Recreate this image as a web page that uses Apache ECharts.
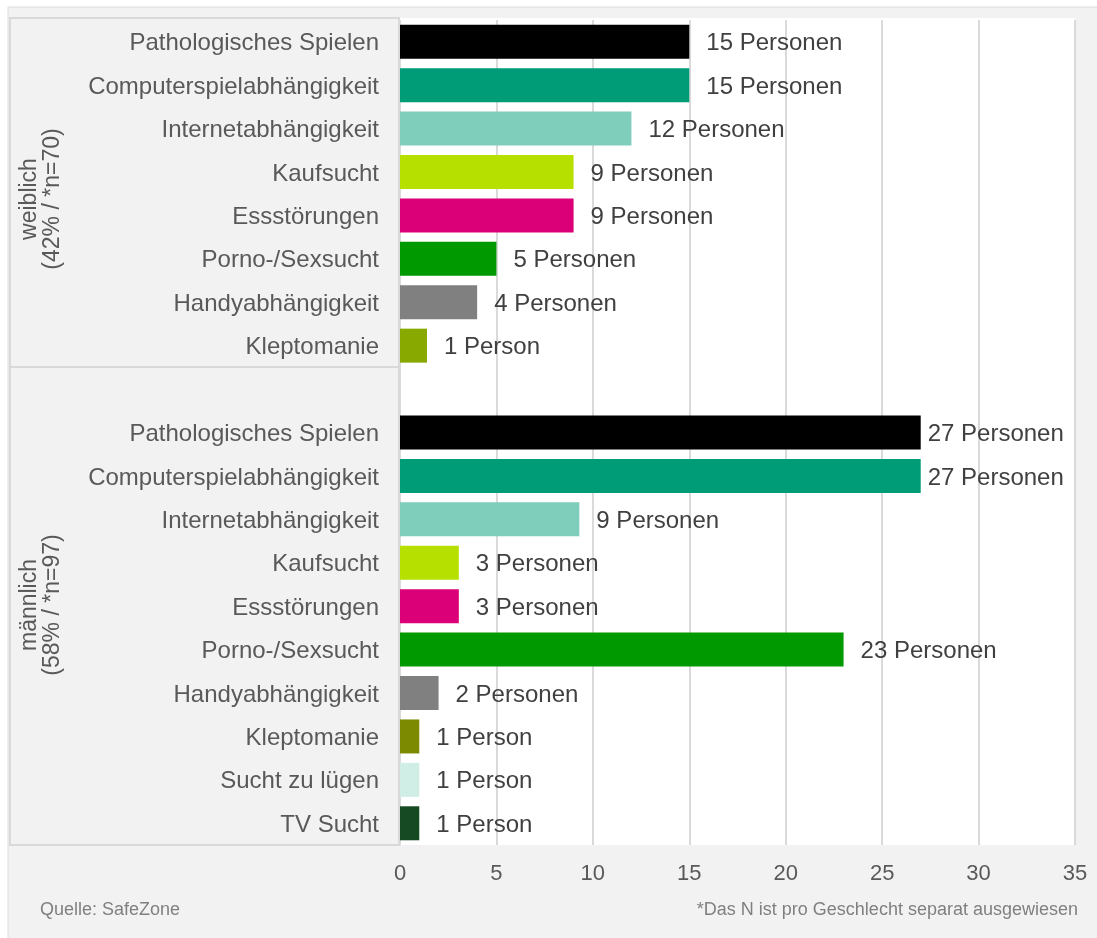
<!DOCTYPE html>
<html>
<head>
<meta charset="utf-8">
<script src="https://cdn.jsdelivr.net/npm/echarts@6/dist/echarts.min.js"></script>
<style>
  html, body { margin: 0; padding: 0; background: #fff; }
  #chart { width: 1097px; height: 938px; }
</style>
</head>
<body>
<div id="chart"></div>
<script>
// weiblich
const femaleCats = ["Pathologisches Spielen", "Computerspielabhängigkeit", "Internetabhängigkeit", "Kaufsucht", "Essstörungen", "Porno-/Sexsucht", "Handyabhängigkeit", "Kleptomanie"];
const femaleValues = [15, 15, 12, 9, 9, 5, 4, 1.4];
const femaleLabels = ["15 Personen", "15 Personen", "12 Personen", "9 Personen", "9 Personen", "5 Personen", "4 Personen", "1 Person"];
const femaleColors = ["#000000", "#009b77", "#7fcdbb", "#b5e000", "#dc0078", "#009900", "#808080", "#88aa00"];

// männlich
const maleCats = ["Pathologisches Spielen", "Computerspielabhängigkeit", "Internetabhängigkeit", "Kaufsucht", "Essstörungen", "Porno-/Sexsucht", "Handyabhängigkeit", "Kleptomanie", "Sucht zu lügen", "TV Sucht"];
const maleValues = [27, 27, 9.3, 3.05, 3.05, 23, 2, 1, 1, 1];
const maleLabels = ["27 Personen", "27 Personen", "9 Personen", "3 Personen", "3 Personen", "23 Personen", "2 Personen", "1 Person", "1 Person", "1 Person"];
const maleColors = ["#000000", "#009b77", "#7fcdbb", "#b5e000", "#dc0078", "#009900", "#808080", "#7b8a00", "#d0ede6", "#154a22"];

const xTicks = [0, 5, 10, 15, 20, 25, 30, 35];

const groupTitles = ["weiblich\n(42% / *n=70)", "männlich\n(58% / *n=97)"];
const source = "Quelle: SafeZone";
const note = "*Das N ist pro Geschlecht separat ausgewiesen";

// eine Leerzeile zwischen den Gruppen
const cats = femaleCats.concat([""], maleCats);
const labels = femaleLabels.concat([""], maleLabels);
const colors = femaleColors.concat(["#fff"], maleColors);
const values = femaleValues.concat(["-"], maleValues);

const font = "'Liberation Sans', Arial, Helvetica, sans-serif";

const barData = values.map((v, i) => ({
  value: v,
  itemStyle: { color: colors[i] },
  label: { distance: v > 25 ? 7 : 17 }
}));

const chart = echarts.init(document.getElementById("chart"));

chart.setOption({
  backgroundColor: "#fff",
  animation: false,
  textStyle: { fontFamily: font },
  grid: {
    left: 400,
    right: 22,
    top: 20,
    bottom: 93,
    show: true,
    backgroundColor: "#fff",
    borderWidth: 0
  },
  xAxis: {
    type: "value",
    min: xTicks[0],
    max: xTicks[xTicks.length - 1],
    interval: xTicks[1] - xTicks[0],
    axisLine: { show: false },
    axisTick: { show: false },
    axisLabel: { fontSize: 22, color: "#595959", margin: 18, fontFamily: font },
    splitLine: { lineStyle: { color: "#dadada", width: 2 } }
  },
  yAxis: {
    type: "category",
    inverse: true,
    data: cats,
    axisLine: { show: false },
    axisTick: { show: false },
    axisLabel: {
      fontSize: 24, color: "#595959", margin: 21, fontFamily: font,
      formatter: (v) => (v ? "{c|" + v + "}" : ""),
      rich: { c: { fontSize: 24, color: "#595959", fontFamily: font, padding: [4, 0, 0, 0] } }
    }
  },
  series: [{
    type: "bar",
    barWidth: 34,
    data: barData,
    label: {
      show: true,
      position: "right",
      fontSize: 24,
      color: "#404040",
      fontFamily: font,
      offset: [0, 2],
      formatter: (p) => labels[p.dataIndex]
    }
  }],
  graphic: [
    {
      type: "rect", z: -10, silent: true,
      shape: { x: 8, y: 7, width: 1200, height: 1000 },
      style: { fill: "#f2f2f2", stroke: "#dcdcdc", lineWidth: 1 }
    },
    {
      type: "rect", z: -9, silent: true,
      shape: { x: 400, y: 18, width: 675, height: 4 },
      style: { fill: "#fff" }
    },
    {
      type: "rect", z: -5, silent: true,
      shape: { x: 10, y: 18, width: 389, height: 349 },
      style: { fill: "#f2f2f2", stroke: "#d9d9d9", lineWidth: 2 }
    },
    {
      type: "rect", z: -5, silent: true,
      shape: { x: 10, y: 367, width: 389, height: 478 },
      style: { fill: "#f2f2f2", stroke: "#d9d9d9", lineWidth: 2 }
    },
    {
      type: "text", z: 10, silent: true,
      x: 41, y: 199, rotation: Math.PI / 2,
      style: {
        text: groupTitles[0], fontSize: 23, lineHeight: 23, fill: "#595959",
        fontFamily: font, align: "center", verticalAlign: "middle"
      }
    },
    {
      type: "text", z: 10, silent: true,
      x: 41, y: 605, rotation: Math.PI / 2,
      style: {
        text: groupTitles[1], fontSize: 23, lineHeight: 23, fill: "#595959",
        fontFamily: font, align: "center", verticalAlign: "middle"
      }
    },
    {
      type: "text", z: 10, silent: true,
      x: 40, y: 910,
      style: {
        text: source, fontSize: 18, fill: "#808080",
        fontFamily: font, align: "left", verticalAlign: "middle"
      }
    },
    {
      type: "text", z: 10, silent: true,
      x: 1078, y: 910,
      style: {
        text: note, fontSize: 18, fill: "#808080",
        fontFamily: font, align: "right", verticalAlign: "middle"
      }
    }
  ]
});
</script>
</body>
</html>
